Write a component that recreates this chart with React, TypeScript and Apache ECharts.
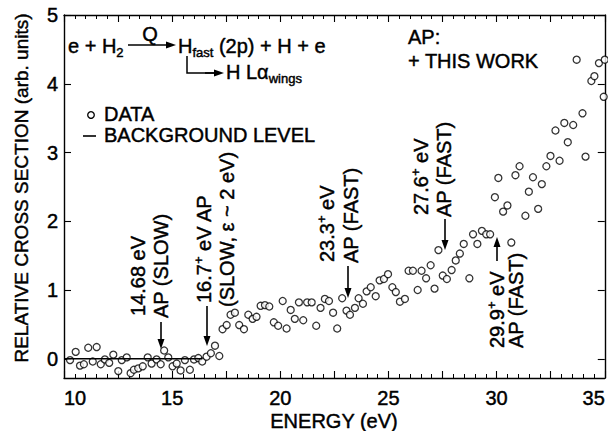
import React, { useEffect, useRef } from 'react';
import * as echarts from 'echarts';

// Energy (eV) of each measured point
const energy = [
  10.28, 10.54, 10.74, 10.92, 11.12, 11.33, 11.51, 11.70, 11.89, 12.09,
  12.28, 12.51, 12.67, 12.90, 13.08, 13.23, 13.43, 13.64, 13.87, 14.05,
  14.28, 14.47, 14.63, 14.82, 15.02, 15.21, 15.39, 15.59, 15.82, 16.01,
  16.21, 16.39, 16.59, 16.79, 16.98, 17.18, 17.33, 17.52, 17.70, 17.90,
  18.10, 18.32, 18.52, 18.72, 18.90, 19.09, 19.29, 19.49, 19.70, 19.90,
  20.11, 20.29, 20.48, 20.67, 20.86, 21.06, 21.24, 21.45, 21.66, 21.86,
  22.06, 22.25, 22.44, 22.63, 22.86, 23.06, 23.22, 23.45, 23.62, 23.82,
  23.99, 24.18, 24.41, 24.59, 24.79, 24.98, 25.18, 25.34, 25.53, 25.76,
  25.93, 26.13, 26.35, 26.53, 26.74, 26.95, 27.13, 27.31, 27.51, 27.70,
  27.92, 28.11, 28.30, 28.48, 28.74, 28.91, 29.11, 29.32, 29.52, 29.70,
  29.92, 30.08, 30.30, 30.50, 30.68, 30.87, 31.06, 31.33, 31.49, 31.68,
  31.92, 32.09, 32.30, 32.49, 32.72, 32.91, 33.13, 33.29, 33.54, 33.70,
  33.97, 34.11, 34.38, 34.52, 34.73, 34.95, 35.0,
];

// Relative cross section (arb. units)
const crossSection = [
  -0.02, 0.10, -0.10, -0.08, 0.16, -0.04, 0.17, -0.08, -0.01, -0.06,
  0.06, -0.18, -0.02, 0.02, -0.21, -0.16, -0.14, -0.11, 0.02, -0.07,
  -0.01, -0.08, 0.12, 0.02, -0.11, -0.07, -0.17, -0.02, -0.16, -0.01,
  0.01, -0.04, 0.03, 0.08, 0.19, 0.04, 0.43, 0.49, 0.64, 0.67,
  0.49, 0.43, 0.64, 0.58, 0.61, 0.77, 0.78, 0.76, 0.53, 0.48,
  0.84, 0.44, 0.71, 0.58, 0.82, 0.56, 0.82, 0.82, 0.48, 0.74,
  0.87, 0.84, 0.67, 0.44, 0.88, 0.70, 0.64, 0.74, 0.88, 0.80,
  0.98, 1.04, 0.91, 1.14, 1.16, 1.23, 1.04, 0.97, 0.83, 0.87,
  1.28, 1.28, 1.00, 1.28, 1.17, 1.36, 1.02, 1.58, 1.21, 1.16,
  1.29, 1.43, 1.53, 1.67, 1.17, 1.81, 1.67, 1.86, 1.81, 1.81,
  2.35, 2.63, 2.14, 2.23, 1.69, 2.67, 2.80, 2.08, 2.43, 2.64,
  2.18, 2.54, 2.80, 2.95, 3.32, 2.88, 3.43, 3.15, 3.40, 4.35,
  3.57, 2.94, 4.04, 4.11, 4.30, 3.81, 4.35,
];

// Background level line
const backgroundEnergy = [10, 16.4];
const backgroundLevel = [0, 0];

// Tick values
const yTickValues = [0, 1, 2, 3, 4, 5];
const xLabelStep = 5;

const FONT = '"Liberation Sans", Arial, Helvetica, sans-serif';
const INK = '#000';
const HEAVY = 0.45; // thin outline to mimic the heavier scanned lettering

function txt(x: number, y: number, text: string, extra: any = {}, rotate = false) {
  const hasRich = text.indexOf('{') >= 0;
  return {
    type: 'text',
    x,
    y,
    rotation: rotate ? Math.PI / 2 : 0,
    silent: true,
    style: {
      text,
      fill: INK,
      stroke: INK,
      lineWidth: HEAVY,
      fontSize: 20,
      fontFamily: FONT,
      align: 'left',
      verticalAlign: 'middle',
      lineHeight: hasRich ? 25 : 20,
      rich: {
        sub: { fontSize: 13, lineHeight: 13, verticalAlign: 'bottom', fontFamily: FONT, fill: INK, stroke: INK, lineWidth: HEAVY },
        sup: { fontSize: 13, lineHeight: 13, verticalAlign: 'top', fontFamily: FONT, fill: INK, stroke: INK, lineWidth: HEAVY },
      },
      ...extra,
    },
  };
}

function arrowV(x: number, yFrom: number, yTip: number) {
  const dir = yTip > yFrom ? 1 : -1;
  const headLen = 10;
  return [
    {
      type: 'line',
      silent: true,
      shape: { x1: x, y1: yFrom, x2: x, y2: yTip - dir * headLen + dir * 1 },
      style: { stroke: INK, lineWidth: 1.6 },
    },
    {
      type: 'polygon',
      silent: true,
      shape: { points: [[x - 3.5, yTip - dir * headLen], [x + 3.5, yTip - dir * headLen], [x, yTip]] },
      style: { fill: INK },
    },
  ];
}

function arrowH(xFrom: number, xTip: number, y: number) {
  const headLen = 10;
  return [
    {
      type: 'line',
      silent: true,
      shape: { x1: xFrom, y1: y, x2: xTip - headLen + 1, y2: y },
      style: { stroke: INK, lineWidth: 1.5 },
    },
    {
      type: 'polygon',
      silent: true,
      shape: { points: [[xTip - headLen, y - 3.5], [xTip - headLen, y + 3.5], [xTip, y]] },
      style: { fill: INK },
    },
  ];
}

export default function App() {
  const ref = useRef<HTMLDivElement>(null);

  useEffect(() => {
    const chart = echarts.init(ref.current!, null, { renderer: 'svg' });

    const axisLine = { show: true, onZero: false, lineStyle: { color: INK, width: 1.4 } };
    const xTick = { show: true, inside: true, length: 7, lineStyle: { color: INK, width: 1.1 } };
    const xMinor = { show: true, splitNumber: 5, length: 4, lineStyle: { color: INK, width: 1 } };
    const yTick = { show: true, inside: true, length: 7, customValues: yTickValues, lineStyle: { color: INK, width: 1.1 } };
    const labelStyle = {
      color: INK,
      fontSize: 20,
      fontFamily: FONT,
      textBorderColor: INK,
      textBorderWidth: HEAVY,
    };

    const graphic: any[] = [
      // axis titles
      txt(21, 188, 'RELATIVE CROSS SECTION (arb. units)', { align: 'center', fontSize: 19 }, true),
      txt(334, 421, 'ENERGY (eV)', { align: 'center' }),
      // reaction formula
      txt(68, 46, 'e + H{sub|2}'),
      ...arrowH(128, 176, 45),
      txt(150, 34, 'Q', { align: 'center' }),
      txt(178, 46, 'H{sub|fast} (2p) + H + e'),
      {
        type: 'polyline',
        silent: true,
        shape: { points: [[187, 56], [187, 73], [215, 73]] },
        style: { stroke: INK, lineWidth: 1.5, fill: 'none' },
      },
      ...arrowH(205, 224, 73),
      txt(226, 72, 'H L\u03b1{sub|wings}'),
      // AP legend
      txt(408, 37, 'AP:'),
      txt(408, 61, '+ THIS WORK'),
      // data legend
      {
        type: 'circle',
        silent: true,
        shape: { cx: 91, cy: 115, r: 3.3 },
        style: { fill: '#fff', stroke: INK, lineWidth: 1.3 },
      },
      txt(104, 114, 'DATA'),
      {
        type: 'line',
        silent: true,
        shape: { x1: 83, y1: 136, x2: 96, y2: 136 },
        style: { stroke: INK, lineWidth: 1.6 },
      },
      txt(104, 135, 'BACKGROUND LEVEL'),
      // appearance potential labels
      txt(138, 316, '14.68 eV', {}, true),
      txt(161, 318, 'AP (SLOW)', {}, true),
      ...arrowV(161, 322, 349),
      txt(204, 303, '16.7{sup|+} eV AP', {}, true),
      txt(227, 307, '(SLOW, \u03b5 ~ 2 eV)', {}, true),
      ...arrowV(207, 306, 346),
      txt(327, 262, '23.3{sup|+} eV', {}, true),
      txt(351, 263, 'AP (FAST)', {}, true),
      ...arrowV(348, 266, 298),
      txt(421, 215, '27.6{sup|+} eV', {}, true),
      txt(444, 217, 'AP (FAST)', {}, true),
      ...arrowV(445, 219, 250),
      txt(497, 348, '29.9{sup|+} eV', {}, true),
      ...arrowV(497, 261, 237),
      txt(516, 348, 'AP (FAST)', {}, true),
    ];

    const option: any = {
      animation: false,
      backgroundColor: '#fff',
      grid: { left: 64, right: 3, top: 15, bottom: 53, containLabel: false },
      xAxis: [
        {
          type: 'value',
          min: 10,
          max: 35,
          interval: 2.5,
          position: 'bottom',
          axisLine,
          axisTick: xTick,
          minorTick: xMinor,
          splitLine: { show: false },
          minorSplitLine: { show: false },
          axisLabel: {
            ...labelStyle,
            margin: 10,
            alignMinLabel: 'left',
            alignMaxLabel: 'right',
            formatter: (v: number) => (Math.abs(v % xLabelStep) < 1e-9 ? String(v) : ''),
          },
        },
        {
          type: 'value',
          min: 10,
          max: 35,
          interval: 2.5,
          position: 'top',
          axisLine,
          axisTick: xTick,
          minorTick: xMinor,
          splitLine: { show: false },
          axisLabel: { show: false },
        },
      ],
      yAxis: [
        {
          type: 'value',
          min: -0.28,
          max: 5,
          position: 'left',
          axisLine,
          axisTick: yTick,
          splitLine: { show: false },
          axisLabel: { ...labelStyle, margin: 6, customValues: yTickValues },
        },
        {
          type: 'value',
          min: -0.28,
          max: 5,
          position: 'right',
          axisLine,
          axisTick: yTick,
          splitLine: { show: false },
          axisLabel: { show: false },
        },
      ],
      series: [
        {
          type: 'line',
          xAxisIndex: 0,
          yAxisIndex: 0,
          data: backgroundEnergy.map((e, i) => [e, backgroundLevel[i]]),
          symbol: 'none',
          lineStyle: { color: INK, width: 1.6 },
          silent: true,
        },
        {
          type: 'scatter',
          xAxisIndex: 0,
          yAxisIndex: 0,
          data: energy.map((e, i) => [e, crossSection[i]]),
          symbol: 'circle',
          symbolSize: 7,
          itemStyle: { color: '#fff', borderColor: INK, borderWidth: 1.3 },
          clip: false,
          silent: true,
        },
      ],
      graphic,
    };

    chart.setOption(option);
    return () => chart.dispose();
  }, []);

  return (
    <div
      ref={ref}
      style={{ position: 'fixed', left: 0, top: 0, width: 608, height: 431, background: '#fff' }}
    />
  );
}
